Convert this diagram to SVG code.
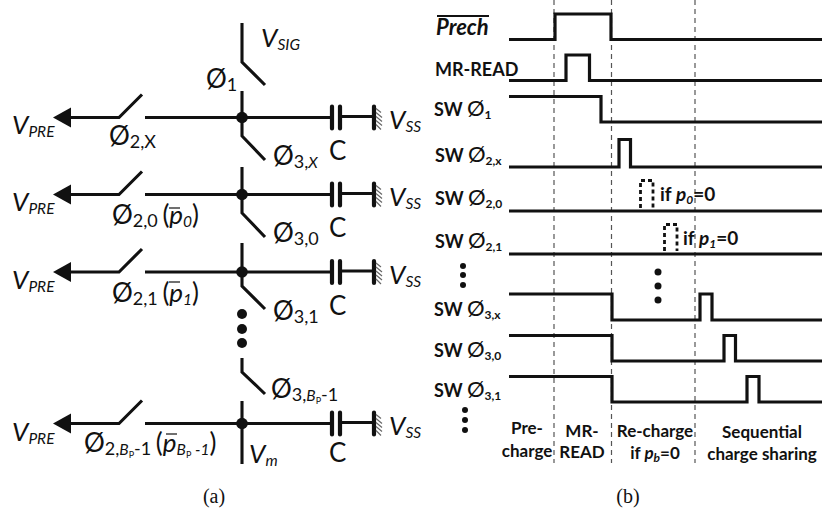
<svg xmlns="http://www.w3.org/2000/svg" width="822" height="516" viewBox="0 0 822 516">
<style>
text{font-family:Lato,"Liberation Sans",sans-serif;fill:#111}
.w{fill:none;stroke:#111;stroke-width:3.1}
.p{fill:none;stroke:#111;stroke-width:4.2;stroke-linecap:round}
.h{fill:none;stroke:#666;stroke-width:1.2}
.s{fill:none;stroke:#111;stroke-width:3.2}
.d{fill:none;stroke:#555;stroke-width:1.2;stroke-dasharray:5 4}
.b{fill:none;stroke:#111;stroke-width:2.8;stroke-dasharray:4 3}
.big{font-size:26px}
.v{font-size:26px;font-style:italic}
.sub{font-size:18px}
.subi{font-size:15.5px;font-style:italic}
.sm{font-size:9px}
.l{font-size:18px;font-weight:700}
.m{font-size:17px;font-weight:700}
.o{font-size:22px;font-weight:400}
.ls{font-size:12px;font-weight:700}
.cap{font-family:"Liberation Serif",serif;font-size:20px;text-anchor:middle}
</style>
<defs>
<g id="row">
<path d="M53 0L71-10V10Z" fill="#111"/>
<path class="w" d="M71 0H119L142-23M145 0H332"/>
<path class="p" d="M332-11V11M340-11V11M374-11V11"/>
<path class="w" d="M340-1H374"/>
<path class="h" d="M376-9l5 4M376-5l6 5M376-1l6 5M376 3l6 5M376 7l5 5"/>
<circle cx="242" r="5.8" fill="#111"/>
</g>
</defs>
<g id="switch-sig">
<path class="w" d="M242 23V62L265 85"/>
<text x="261" y="47" class="v">V<tspan class="subi" dy="3">SIG</tspan></text>
<text x="206" y="88" class="big">Ø<tspan class="sub" dy="3">1</tspan></text>
</g>
<g id="row-x">
<use href="#row" y="117.5"/>
<path class="w" d="M242 91V136L265 160"/>
<text x="12" y="134" class="v">V<tspan class="subi" dy="3">PRE</tspan></text>
<text x="109" y="145" class="big">Ø<tspan class="sub" dy="3">2,X</tspan></text>
<text x="273" y="165" class="big">Ø<tspan class="sub" dy="3">3,</tspan><tspan class="subi">X</tspan></text>
<text x="329" y="160" class="big">C</text>
<text x="389" y="129" class="v">V<tspan class="subi" dy="3">SS</tspan></text>
</g>
<g id="row-0">
<use href="#row" y="194.5"/>
<path class="w" d="M242 167V213L265 237"/>
<text x="12" y="211" class="v">V<tspan class="subi" dy="3">PRE</tspan></text>
<text x="112" y="224" class="big">Ø<tspan class="sub" dy="3">2,0 </tspan><tspan class="big" dy="-3">(</tspan><tspan class="v">p</tspan><tspan class="subi" dy="3">0</tspan><tspan class="big" dy="-3">)</tspan></text>
<path d="M169 208H180" stroke="#111" stroke-width="1.2"/>
<text x="273" y="242" class="big">Ø<tspan class="sub" dy="3">3,0</tspan></text>
<text x="329" y="237" class="big">C</text>
<text x="389" y="206" class="v">V<tspan class="subi" dy="3">SS</tspan></text>
</g>
<g id="row-1">
<use href="#row" y="272"/>
<path class="w" d="M242 243V286L265 309"/>
<text x="12" y="289" class="v">V<tspan class="subi" dy="3">PRE</tspan></text>
<text x="112" y="302" class="big">Ø<tspan class="sub" dy="3">2,1 </tspan><tspan class="big" dy="-3">(</tspan><tspan class="v">p</tspan><tspan class="subi" dy="3">1</tspan><tspan class="big" dy="-3">)</tspan></text>
<path d="M169 282H180" stroke="#111" stroke-width="1.2"/>
<text x="273" y="320" class="big">Ø<tspan class="sub" dy="3">3,1</tspan></text>
<text x="329" y="315" class="big">C</text>
<text x="389" y="284" class="v">V<tspan class="subi" dy="3">SS</tspan></text>
</g>
<g id="dots-a" fill="#111">
<circle cx="242" cy="314" r="5"/><circle cx="242" cy="329" r="5"/><circle cx="242" cy="343" r="5"/>
</g>
<g id="switch-bp">
<path class="w" d="M242 358V372L265 394"/>
<text x="271" y="398" class="big">Ø<tspan class="sub" dy="3">3,</tspan><tspan class="subi">B</tspan><tspan class="sm" dy="3">P</tspan><tspan class="sub" dy="-3">-1</tspan></text>
</g>
<g id="row-bp">
<use href="#row" y="423.5"/>
<path class="w" d="M242 401V464"/>
<text x="12" y="441" class="v">V<tspan class="subi" dy="3">PRE</tspan></text>
<text x="84" y="452" class="big">Ø<tspan class="sub" dy="3">2,</tspan><tspan class="subi">B</tspan><tspan class="sm" dy="3">P</tspan><tspan class="sub" dy="-3">-1 </tspan><tspan class="big" dy="-3">(</tspan><tspan class="v">p</tspan><tspan class="subi" dy="3">B</tspan><tspan class="sm" dy="3">P</tspan><tspan class="subi" dy="-3"> -1</tspan><tspan class="big" dy="-3">)</tspan></text>
<path d="M166 434H177" stroke="#111" stroke-width="1.2"/>
<text x="249" y="463" class="v">V<tspan class="subi" dy="3">m</tspan></text>
<text x="329" y="462" class="big">C</text>
<text x="389" y="435" class="v">V<tspan class="subi" dy="3">SS</tspan></text>
</g>
<text id="cap-a" x="214" y="503" class="cap">(a)</text>
<g id="guides">
<path class="d" d="M554 0V463M611.5 0V463M695 0V463"/>
</g>
<g id="connectors">
<path class="s" d="M509 39.5H555V14H611V39.5H822"/>
<path class="s" d="M509 80.5H566V55H589.5V80.5H822"/>
<path class="s" d="M509 96.5H601V122H822"/>
<path class="s" d="M509 167H619V139.5H630.5V167H822"/>
<path class="s" d="M509 211H822"/>
<path class="s" d="M509 254H822"/>
<path class="s" d="M509 294H612V320H700V294H712V320H822"/>
<path class="s" d="M509 335.5H612V361H724V335.5H735.5V361H822"/>
<path class="s" d="M509 376.5H612V402H747V376.5H759V402H822"/>
<path class="b" d="M640.5 208V180.5H653V208"/>
<path class="b" d="M664.5 251V224.5H677V251"/>
</g>
<g id="labels">
<text x="436" y="35" class="l" style="font-style:italic;font-size:22px">Prech</text>
<path d="M437 16H489" stroke="#111" stroke-width="2"/>
<text x="435" y="76" class="l">MR-READ</text>
<text x="434" y="116" class="l">SW <tspan class="o">Ø</tspan><tspan class="ls" dy="3">1</tspan></text>
<text x="435" y="162" class="l">SW <tspan class="o">Ø</tspan><tspan class="ls" dy="3">2,x</tspan></text>
<text x="435" y="205" class="l">SW <tspan class="o">Ø</tspan><tspan class="ls" dy="3">2,0</tspan></text>
<text x="435" y="248" class="l">SW <tspan class="o">Ø</tspan><tspan class="ls" dy="3">2,1</tspan></text>
<text x="434" y="316" class="l">SW <tspan class="o">Ø</tspan><tspan class="ls" dy="3">3,x</tspan></text>
<text x="434" y="357" class="l">SW <tspan class="o">Ø</tspan><tspan class="ls" dy="3">3,0</tspan></text>
<text x="434" y="397" class="l">SW <tspan class="o">Ø</tspan><tspan class="ls" dy="3">3,1</tspan></text>
<text x="660" y="201" class="l" style="font-size:19px">if <tspan font-style="italic">p<tspan class="ls" dy="3">0</tspan></tspan><tspan dy="-3">=0</tspan></text>
<text x="683" y="245" class="l" style="font-size:19px">if <tspan font-style="italic">p<tspan class="ls" dy="3">1</tspan></tspan><tspan dy="-3">=0</tspan></text>
<g class="m" text-anchor="middle">
<text x="527" y="434">Pre-</text>
<text x="527" y="457">charge</text>
<text x="582" y="437">MR-</text>
<text x="582" y="458">READ</text>
<text x="655" y="437">Re-charge</text>
<text x="655" y="459">if <tspan font-style="italic">p<tspan class="ls" dy="3">b</tspan></tspan><tspan dy="-3">=0</tspan></text>
<text x="762" y="438">Sequential</text>
<text x="762" y="460">charge sharing</text>
</g>
</g>
<g id="dots-b" fill="#111">
<circle cx="463" cy="266" r="3"/><circle cx="463" cy="275" r="3"/><circle cx="463" cy="285" r="3"/>
<circle cx="658" cy="272" r="3.5"/><circle cx="658" cy="286" r="3.5"/><circle cx="658" cy="300" r="3.5"/>
<circle cx="465" cy="410" r="3"/><circle cx="465" cy="420" r="3"/><circle cx="465" cy="430" r="3"/>
</g>
<text id="cap-b" x="628" y="503" class="cap">(b)</text>
</svg>
